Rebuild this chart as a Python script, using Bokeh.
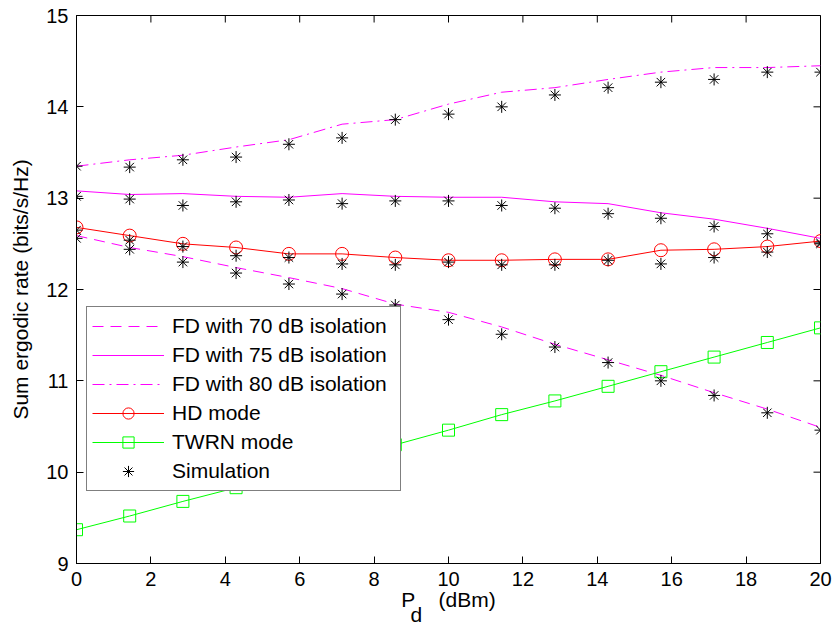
import math
from bokeh.plotting import figure
from bokeh.models import FixedTicker, Range1d, Legend, LegendItem
from bokeh.embed import file_html
from bokeh.resources import INLINE

# ---- data ----
pd_dbm = [0, 1.43, 2.86, 4.29, 5.71, 7.14, 8.57, 10, 11.43, 12.86, 14.29, 15.71, 17.14, 18.57, 20]

fd70 = [12.59, 12.46, 12.36, 12.24, 12.13, 12.01, 11.84, 11.75, 11.59, 11.40, 11.23, 11.06, 10.87, 10.69, 10.49]
fd75 = [13.08, 13.04, 13.05, 13.02, 13.01, 13.05, 13.02, 13.01, 13.01, 12.96, 12.94, 12.84, 12.77, 12.67, 12.56]
fd80 = [13.35, 13.42, 13.47, 13.56, 13.64, 13.81, 13.86, 14.03, 14.16, 14.21, 14.30, 14.38, 14.43, 14.43, 14.45]
hd = [12.68, 12.59, 12.50, 12.46, 12.39, 12.39, 12.35, 12.32, 12.32, 12.33, 12.33, 12.43, 12.44, 12.47, 12.53]
twrn = [9.37, 9.52, 9.68, 9.83, 9.99, 10.15, 10.30, 10.46, 10.63, 10.78, 10.94, 11.10, 11.26, 11.42, 11.58]

sim70 = [12.56, 12.44, 12.30, 12.18, 12.06, 11.95, 11.83, 11.67, 11.51, 11.37, 11.20, 11.00, 10.84, 10.65, 10.46]
sim75 = [13.02, 12.99, 12.92, 12.96, 12.98, 12.94, 12.97, 12.97, 12.92, 12.89, 12.83, 12.78, 12.69, 12.61, 12.51]
sim80 = [13.35, 13.34, 13.42, 13.45, 13.59, 13.66, 13.86, 13.92, 14.00, 14.13, 14.21, 14.27, 14.30, 14.38, 14.38]
simhd = [12.65, 12.54, 12.47, 12.37, 12.35, 12.28, 12.27, 12.30, 12.27, 12.27, 12.32, 12.28, 12.35, 12.41, 12.50]

x_min, x_max = 0, 20
y_min, y_max = 9, 15
x_ticks = [0, 2, 4, 6, 8, 10, 12, 14, 16, 18, 20]
y_ticks = [9, 10, 11, 12, 13, 14, 15]

legend_labels = ["FD with 70 dB isolation", "FD with 75 dB isolation", "FD with 80 dB isolation",
                 "HD mode", "TWRN mode", "Simulation"]
y_label = "Sum ergodic rate (bits/s/Hz)"
NB = "\u00a0"
x_label = "P" + NB * 4 + "(dBm)" + "\n" + "d" + NB * 11

FONT = "Liberation Sans"
TICK_FS = "20px"
FS = "21px"
MAG = "#FF00FF"
RED = "#FF0000"
GRN = "#00FF00"

p = figure(width=834, height=628, x_range=Range1d(x_min, x_max), y_range=Range1d(y_min, y_max),
           output_backend="svg", toolbar_location=None,
           min_border_left=76, min_border_right=14, min_border_top=15, min_border_bottom=65)
p.xgrid.visible = False
p.ygrid.visible = False
p.outline_line_color = "black"
p.outline_line_width = 1
p.background_fill_color = "white"
p.border_fill_color = "white"

for ax, ticks in ((p.xaxis[0], x_ticks), (p.yaxis[0], y_ticks)):
    ax.ticker = FixedTicker(ticks=ticks)
    ax.axis_line_color = "black"
    ax.axis_line_width = 1
    ax.major_tick_line_color = "black"
    ax.major_tick_in = 7
    ax.major_tick_out = 0
    ax.minor_tick_line_color = None
    ax.major_label_text_font = FONT
    ax.major_label_text_font_size = TICK_FS
    ax.major_label_text_color = "black"
    ax.major_label_standoff = 8
    ax.axis_label_text_font = FONT
    ax.axis_label_text_font_size = FS
    ax.axis_label_text_font_style = "normal"
    ax.axis_label_text_color = "black"

p.yaxis[0].axis_label = y_label
p.yaxis[0].axis_label_standoff = 11
p.xaxis[0].axis_label = x_label
p.xaxis[0].axis_label_standoff = -1
p.xaxis[0].axis_label_text_line_height = 0.66

# inward ticks on the top and right edges (clipped to the frame)
p.scatter(x_ticks, [y_max] * len(x_ticks), marker="dash", angle=math.pi / 2, size=14,
          line_color="black", line_width=1)
p.scatter([x_max] * len(y_ticks), y_ticks, marker="dash", size=14,
          line_color="black", line_width=1)

# ---- series ----
r70 = p.line(pd_dbm, fd70, line_color=MAG, line_width=1, line_dash="11 7")
r75 = p.line(pd_dbm, fd75, line_color=MAG, line_width=1)
r80 = p.line(pd_dbm, fd80, line_color=MAG, line_width=1, line_dash="12 5 2 5")
rhd_l = p.line(pd_dbm, hd, line_color=RED, line_width=1)
rhd_m = p.scatter(pd_dbm, hd, marker="circle", size=13, fill_color=None, line_color=RED, line_width=1)
rtw_l = p.line(pd_dbm, twrn, line_color=GRN, line_width=1)
rtw_m = p.scatter(pd_dbm, twrn, marker="square", size=12, fill_color=None, line_color=GRN, line_width=1)

sims = []
for s in (sim70, sim75, sim80, simhd):
    sims.append(p.scatter(pd_dbm, s, marker="asterisk", size=12, line_color="black", line_width=1))

legend = Legend(items=[
    LegendItem(label=legend_labels[0], renderers=[r70]),
    LegendItem(label=legend_labels[1], renderers=[r75]),
    LegendItem(label=legend_labels[2], renderers=[r80]),
    LegendItem(label=legend_labels[3], renderers=[rhd_l, rhd_m]),
    LegendItem(label=legend_labels[4], renderers=[rtw_l, rtw_m]),
    LegendItem(label=legend_labels[5], renderers=[sims[0]]),
], location=(10, 72))
legend.label_text_font = FONT
legend.label_text_font_size = FS
legend.label_text_color = "black"
legend.border_line_color = "black"
legend.border_line_width = 1
legend.background_fill_color = "white"
legend.background_fill_alpha = 1
legend.padding = 5
legend.spacing = 1
legend.margin = 0
legend.glyph_width = 72
legend.glyph_height = 28
legend.label_height = 28
legend.label_width = 223
legend.label_standoff = 8
p.add_layout(legend)

open("out.html", "w").write(file_html(p, INLINE))
